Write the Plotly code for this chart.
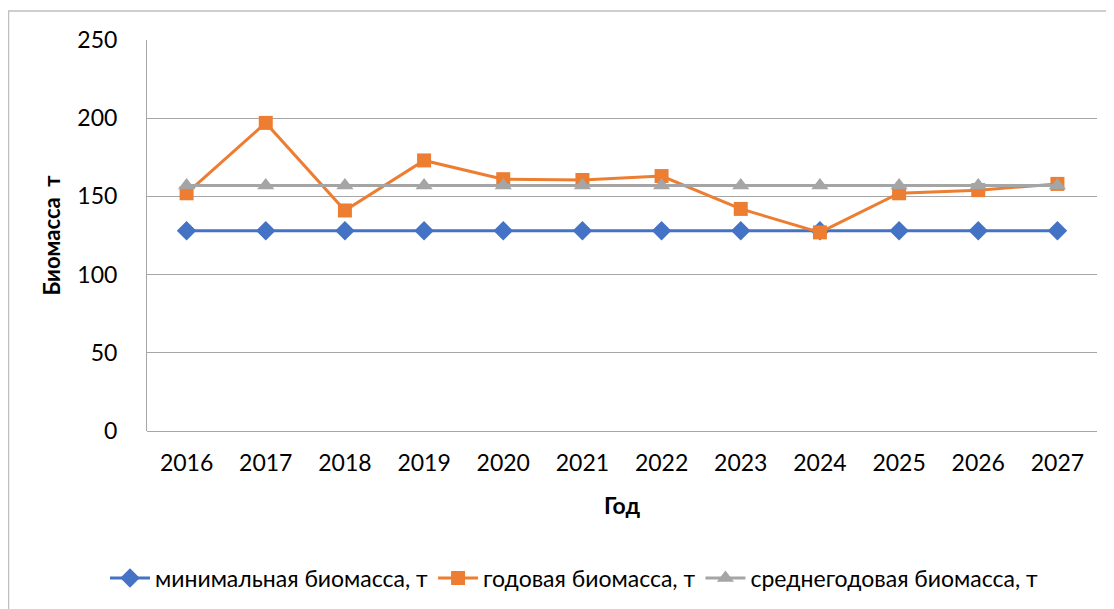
import plotly.graph_objects as go

years = ["2016", "2017", "2018", "2019", "2020", "2021", "2022", "2023", "2024", "2025", "2026", "2027"]
min_biomass = [128, 128, 128, 128, 128, 128, 128, 128, 128, 128, 128, 128]
annual_biomass = [152, 197, 141, 173, 161, 160.5, 163, 142, 127, 152, 154, 158]
avg_biomass = [157, 157, 157, 157, 157, 157, 157, 157, 157, 157, 157, 157]
series_names = ["минимальная биомасса, т", "годовая биомасса, т", "среднегодовая биомасса, т"]
y_ticks = [0, 50, 100, 150, 200, 250]

FONT = "Lato"
fig = go.Figure()
fig.add_trace(go.Scatter(x=years, y=min_biomass, name=series_names[0], mode="lines+markers",
                         line=dict(color="#4472C4", width=3),
                         marker=dict(symbol="diamond", size=15, color="#4472C4")))
fig.add_trace(go.Scatter(x=years, y=annual_biomass, name=series_names[1], mode="lines+markers",
                         line=dict(color="#ED7D31", width=3),
                         marker=dict(symbol="square", size=14, color="#ED7D31")))
fig.add_trace(go.Scatter(x=years, y=avg_biomass, name=series_names[2], mode="lines+markers",
                         line=dict(color="#A5A5A5", width=3),
                         marker=dict(symbol="triangle-up", size=15, color="#A5A5A5")))

# page body has an 8px default margin, compensate in margins
fig.update_layout(
    width=1114, height=609,
    margin=dict(l=139, r=25, t=32, b=186),
    paper_bgcolor="white", plot_bgcolor="white",
    font=dict(family=FONT, color="black", size=23),
    showlegend=True,
    legend=dict(orientation="h", x=0.45, xanchor="center", y=-0.376, yanchor="middle",
                font=dict(size=23, family=FONT), itemwidth=40, tracegroupgap=0),
    xaxis=dict(type="category", range=[-0.5, 11.5], showgrid=False, zeroline=False,
               showline=False, ticks="", tickfont=dict(size=23), ticklabelstandoff=16,
               title=dict(text="<b>Год</b>", font=dict(size=23), standoff=22)),
    yaxis=dict(range=[0, 250], tickvals=y_ticks, showgrid=True, gridcolor="#A6A6A6", gridwidth=1,
               zeroline=True, zerolinecolor="#A6A6A6", zerolinewidth=1,
               showline=True, linecolor="#A6A6A6", linewidth=1, ticks="",
               tickfont=dict(size=23), ticklabelstandoff=24,
               title=dict(text="<b>Биомасса&nbsp;&nbsp;т</b>", font=dict(size=22), standoff=10)),
    shapes=[dict(type="rect", xref="paper", yref="paper", x0=-0.1458, x1=1.2, y0=-0.6, y1=1.074,
                 line=dict(color="#BFBFBF", width=1.5), fillcolor="rgba(0,0,0,0)", layer="below")],
)

fig.write_html("out.html")
